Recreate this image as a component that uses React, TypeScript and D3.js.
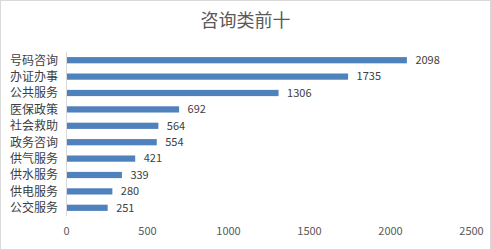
import React from "react";
import * as d3 from "d3";

const title = "咨询类前十";
const categories = ["号码咨询", "办证办事", "公共服务", "医保政策", "社会救助", "政务咨询", "供气服务", "供水服务", "供电服务", "公交服务"];
const values = [2098, 1735, 1306, 692, 564, 554, 421, 339, 280, 251];
const xTicks = [0, 500, 1000, 1500, 2000, 2500];

const W = 491, H = 250;
const font = "'Noto Sans CJK SC', 'Microsoft YaHei', sans-serif";

export default function App() {
  const x = d3.scaleLinear().domain([0, 2500]).range([66.5, 471.5]);
  const y = d3.scaleBand<string>().domain(categories).range([52, 216]).paddingInner(0.62).paddingOuter(0.31);
  return (
    <svg width={W} height={H} style={{ position: "absolute", left: 0, top: 0, background: "#fff" }}>
      <rect x={0.5} y={0.5} width={W - 1} height={H - 1} fill="#fff" stroke="#d9d9d9" />
      <text x={W / 2} y={27} textAnchor="middle" fontSize={18} fill="#595959" fontFamily={font}>{title}</text>
      <line x1={x(0)} x2={x(0)} y1={52} y2={216} stroke="#d9d9d9" />
      {categories.map((c, i) => (
        <g key={c}>
          <rect x={x(0) + 0.5} y={y(c)!} width={x(values[i]) - x(0)} height={y.bandwidth()} fill="#4f81bd" />
          <text x={x(values[i]) + 9} y={y(c)! + y.bandwidth() / 2} dy="0.35em" fontSize={11} fill="#404040" fontFamily={font}>{values[i]}</text>
          <text x={58} y={y(c)! + y.bandwidth() / 2} dy="0.36em" textAnchor="end" fontSize={12} fill="#404040" fontFamily={font}>{c}</text>
        </g>
      ))}
      {xTicks.map((t) => (
        <text key={t} x={x(t)} y={235} textAnchor="middle" fontSize={11} fill="#595959" fontFamily={font}>{t}</text>
      ))}
    </svg>
  );
}
